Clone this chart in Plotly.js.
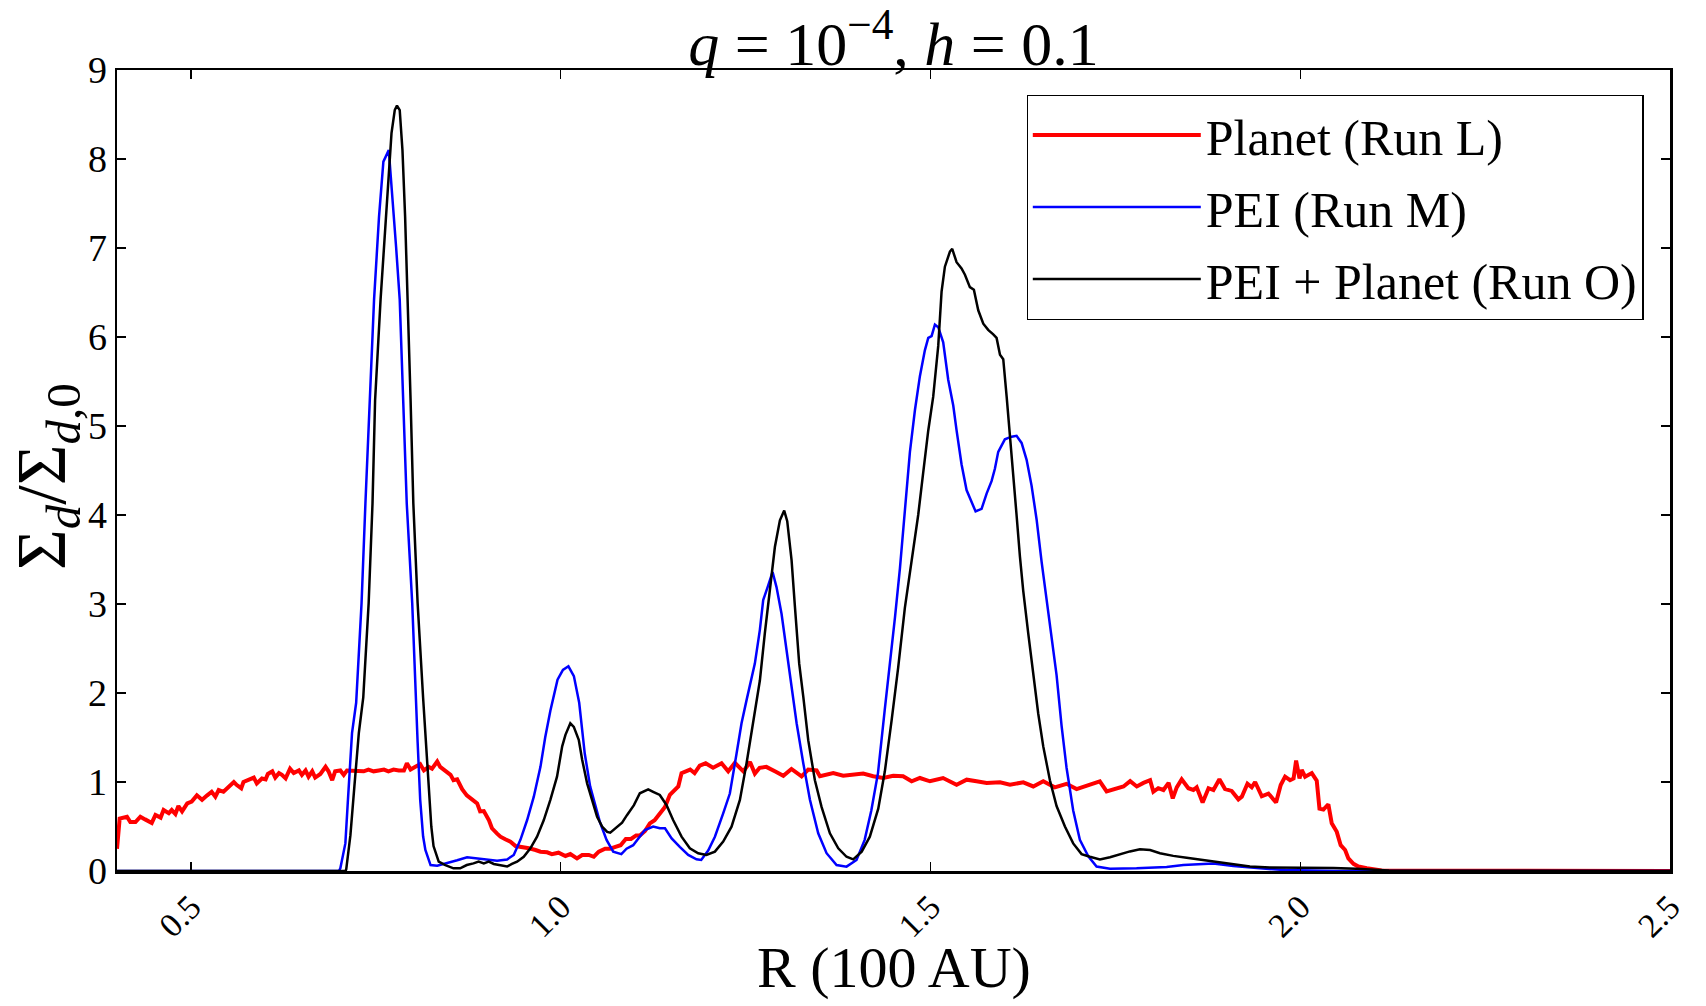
<!DOCTYPE html>
<html>
<head>
<meta charset="utf-8">
<script src="https://cdn.plot.ly/plotly-3.0.1.min.js"></script>
<style>
  html, body { margin: 0; padding: 0; background: #fff; }
</style>
</head>
<body>
<div id="chart"></div>
<script>
// Run L: planet only
const runLR = [0.400, 0.4036, 0.4135, 0.418, 0.425, 0.4316, 0.438, 0.447, 0.452, 0.459, 0.463, 0.470, 0.474, 0.479, 0.483, 0.488, 0.495, 0.501, 0.508, 0.515,
  0.522, 0.528, 0.533, 0.5375, 0.544, 0.551, 0.558, 0.562, 0.568, 0.571, 0.578, 0.585, 0.589, 0.596, 0.601, 0.604, 0.610, 0.614, 0.619, 0.623,
  0.628, 0.634, 0.639, 0.646, 0.650, 0.655, 0.659, 0.664, 0.668, 0.675, 0.682, 0.686, 0.691, 0.695, 0.702, 0.7066, 0.711, 0.718, 0.7246, 0.7336,
  0.740, 0.747, 0.754, 0.761, 0.767, 0.774, 0.781, 0.788, 0.792, 0.797, 0.8035, 0.810, 0.815, 0.8215, 0.826, 0.833, 0.837, 0.844, 0.851, 0.855,
  0.860, 0.8667, 0.873, 0.880, 0.887, 0.891, 0.896, 0.903, 0.907, 0.914, 0.9185, 0.925, 0.932, 0.939, 0.948, 0.957, 0.966, 0.9726, 0.9816, 0.988,
  0.997, 1.0064, 1.013, 1.022, 1.029, 1.038, 1.0447, 1.0515, 1.060, 1.067, 1.074, 1.081, 1.088, 1.095, 1.102, 1.107, 1.114, 1.1205, 1.127, 1.134,
  1.141, 1.1476, 1.153, 1.159, 1.1634, 1.169, 1.175, 1.181, 1.188, 1.196, 1.206, 1.2175, 1.2265, 1.2355, 1.247, 1.256, 1.2625, 1.269, 1.278, 1.2896,
  1.301, 1.312, 1.3257, 1.3347, 1.346, 1.3505, 1.3685, 1.382, 1.3956, 1.409, 1.4226, 1.436, 1.4497, 1.463, 1.4745, 1.4857, 1.4993, 1.517, 1.5353, 1.549,
  1.5623, 1.576, 1.594, 1.6075, 1.6255, 1.639, 1.6525, 1.668, 1.684, 1.6976, 1.7157, 1.729, 1.7382, 1.752, 1.761, 1.770, 1.779, 1.788, 1.797, 1.8014,
  1.808, 1.815, 1.822, 1.8276, 1.833, 1.8397, 1.8487, 1.8555, 1.860, 1.868, 1.876, 1.8826, 1.8907, 1.8983, 1.9073, 1.9164, 1.921, 1.9286, 1.9344, 1.939,
  1.948, 1.957, 1.9673, 1.9736, 1.9795, 1.9862, 1.991, 1.9944, 1.999, 2.002, 2.0066, 2.0156, 2.0223, 2.026, 2.0313, 2.038, 2.0426, 2.0494, 2.0547, 2.0607,
  2.0651, 2.072, 2.0787, 2.090, 2.110, 2.500];
const runLS = [0.25, 0.59, 0.61, 0.55, 0.55, 0.61, 0.58, 0.54, 0.63, 0.60, 0.685, 0.65, 0.685, 0.64, 0.73, 0.67, 0.76, 0.78, 0.85, 0.80,
  0.85, 0.89, 0.835, 0.91, 0.89, 0.94, 1.00, 0.966, 0.93, 1.00, 1.02, 1.05, 0.985, 1.04, 1.03, 1.09, 1.12, 1.05, 1.10, 1.08,
  1.04, 1.15, 1.10, 1.13, 1.08, 1.13, 1.06, 1.12, 1.05, 1.09, 1.17, 1.12, 1.02, 1.12, 1.13, 1.08, 1.13, 1.13, 1.12, 1.12,
  1.14, 1.12, 1.13, 1.14, 1.12, 1.14, 1.13, 1.13, 1.21, 1.14, 1.17, 1.20, 1.13, 1.17, 1.15, 1.23, 1.17, 1.13, 1.08, 1.02,
  1.03, 0.92, 0.85, 0.805, 0.76, 0.67, 0.674, 0.57, 0.48, 0.42, 0.386, 0.356, 0.33, 0.28, 0.27, 0.255, 0.236, 0.217, 0.21, 0.19,
  0.206, 0.169, 0.19, 0.142, 0.18, 0.18, 0.16, 0.217, 0.25, 0.25, 0.27, 0.29, 0.36, 0.36, 0.40, 0.40, 0.45, 0.535, 0.57, 0.65,
  0.72, 0.856, 0.90, 0.95, 1.10, 1.12, 1.14, 1.10, 1.185, 1.21, 1.16, 1.21, 1.12, 1.215, 1.12, 1.225, 1.094, 1.16, 1.17, 1.12,
  1.07, 1.147, 1.064, 1.14, 1.13, 1.064, 1.10, 1.07, 1.08, 1.094, 1.064, 1.045, 1.07, 1.064, 1.008, 1.045, 1.008, 1.045, 0.97, 1.026,
  1.008, 0.99, 0.996, 0.97, 0.996, 0.95, 1.008, 0.94, 0.98, 0.92, 0.97, 1.008, 0.894, 0.93, 0.95, 1.01, 0.95, 0.99, 1.02, 0.89,
  0.93, 0.91, 0.99, 0.816, 0.94, 1.03, 0.93, 0.91, 0.94, 0.77, 0.93, 0.91, 1.03, 0.92, 0.90, 0.805, 0.835, 0.98, 0.94, 1.00,
  0.84, 0.87, 0.77, 0.966, 1.06, 1.02, 1.04, 1.24, 1.04, 1.135, 1.06, 1.10, 1.015, 0.70, 0.69, 0.75, 0.535, 0.44, 0.29, 0.236,
  0.142, 0.08, 0.05, 0.03, 0.005, 0];

// Run M: PEI only
const runMR = [0.400, 0.700, 0.702, 0.7088, 0.712, 0.7178, 0.7234, 0.7307, 0.7359, 0.7418, 0.7476, 0.7543, 0.7602, 0.7675, 0.7727, 0.7775, 0.7823, 0.7874, 0.7918, 0.7992,
  0.8035, 0.8065, 0.810, 0.8139, 0.817, 0.824, 0.833, 0.846, 0.860, 0.8734, 0.887, 0.9004, 0.914, 0.9275, 0.9365, 0.9455, 0.9545, 0.9636, 0.9726, 0.979,
  0.986, 0.9957, 1.003, 1.0104, 1.0178, 1.025, 1.0325, 1.0398, 1.046, 1.053, 1.062, 1.071, 1.082, 1.089, 1.098, 1.105, 1.1138, 1.125, 1.134, 1.141,
  1.150, 1.161, 1.1724, 1.1836, 1.190, 1.1994, 1.2085, 1.2197, 1.2287, 1.2378, 1.2445, 1.2513, 1.258, 1.2625, 1.2693, 1.2738, 1.2806, 1.2865, 1.2918, 1.2986,
  1.3054, 1.312, 1.319, 1.328, 1.337, 1.3482, 1.3595, 1.373, 1.3865, 1.400, 1.411, 1.420, 1.429, 1.438, 1.445, 1.452, 1.4587, 1.4654, 1.4722, 1.479,
  1.4857, 1.4924, 1.497, 1.5015, 1.506, 1.5105, 1.5172, 1.524, 1.5308, 1.5353, 1.542, 1.5488, 1.5556, 1.561, 1.5691, 1.5759, 1.5826, 1.5871, 1.5916, 1.6006,
  1.6097, 1.6164, 1.6232, 1.630, 1.6367, 1.6435, 1.6502, 1.657, 1.6638, 1.6705, 1.6773, 1.684, 1.693, 1.702, 1.7134, 1.7246, 1.7427, 1.7787, 1.8193, 1.842,
  1.8824, 1.9095, 1.9456, 1.980, 2.050, 2.500];
const runMS = [0, 0, 0.03, 0.31, 0.76, 1.55, 1.89, 3.01, 4.13, 5.29, 6.42, 7.35, 7.97, 8.10, 7.55, 7.0, 6.42, 5.29, 4.13, 3.01,
  1.95, 1.45, 0.80, 0.39, 0.236, 0.067, 0.06, 0.086, 0.12, 0.154, 0.142, 0.13, 0.116, 0.13, 0.18, 0.35, 0.57, 0.835, 1.17, 1.50,
  1.80, 2.15, 2.26, 2.30, 2.19, 1.89, 1.32, 0.95, 0.75, 0.55, 0.35, 0.218, 0.19, 0.25, 0.29, 0.366, 0.46, 0.50, 0.48, 0.48,
  0.366, 0.27, 0.18, 0.131, 0.124, 0.23, 0.385, 0.648, 0.87, 1.32, 1.66, 1.92, 2.18, 2.33, 2.71, 3.045, 3.21, 3.36, 3.19, 2.89,
  2.48, 2.07, 1.66, 1.21, 0.80, 0.423, 0.20, 0.067, 0.049, 0.124, 0.35, 0.68, 1.10, 1.80, 2.30, 2.85, 3.40, 4.01, 4.71, 5.18,
  5.56, 5.85, 5.99, 6.01, 6.14, 6.11, 5.94, 5.52, 5.23, 4.95, 4.57, 4.28, 4.14, 4.04, 4.07, 4.24, 4.38, 4.52, 4.71, 4.85,
  4.88, 4.89, 4.81, 4.62, 4.33, 3.95, 3.48, 3.05, 2.67, 2.20, 1.63, 1.16, 0.68, 0.35, 0.165, 0.05, 0.025, 0.03, 0.045, 0.067,
  0.085, 0.055, 0.03, 0.01, 0, 0];

// Run O: PEI + planet
const runOR = [0.400, 0.709, 0.710, 0.7156, 0.721, 0.727, 0.733, 0.7403, 0.7455, 0.749, 0.7564, 0.7653, 0.7712, 0.7756, 0.7786, 0.7823, 0.786, 0.7896, 0.7932, 0.797,
  0.8007, 0.8065, 0.8139, 0.818, 0.8215, 0.825, 0.828, 0.835, 0.844, 0.855, 0.864, 0.873, 0.882, 0.889, 0.896, 0.9027, 0.9095, 0.9185, 0.9275, 0.934,
  0.941, 0.950, 0.959, 0.968, 0.977, 0.986, 0.995, 1.002, 1.0064, 1.013, 1.0177, 1.0245, 1.029, 1.0357, 1.0425, 1.0492, 1.056, 1.0628, 1.067, 1.074,
  1.083, 1.0898, 1.099, 1.107, 1.1183, 1.125, 1.134, 1.143, 1.152, 1.1634, 1.1746, 1.1859, 1.197, 1.2085, 1.2197, 1.231, 1.2423, 1.2513, 1.2603, 1.2693,
  1.276, 1.2829, 1.2896, 1.2964, 1.3022, 1.3063, 1.3122, 1.3167, 1.3225, 1.328, 1.3347, 1.3437, 1.3527, 1.364, 1.3753, 1.3865, 1.3955, 1.407, 1.418, 1.4294,
  1.4383, 1.4474, 1.4564, 1.4654, 1.4744, 1.4834, 1.4902, 1.497, 1.5037, 1.5105, 1.515, 1.5195, 1.5263, 1.5294, 1.5353, 1.542, 1.5466, 1.5533, 1.5587, 1.5646,
  1.5714, 1.578, 1.5849, 1.5894, 1.594, 1.5984, 1.603, 1.6074, 1.612, 1.6164, 1.621, 1.6254, 1.6322, 1.639, 1.6457, 1.6525, 1.6615, 1.6705, 1.6818, 1.693,
  1.7043, 1.7156, 1.7291, 1.7427, 1.7562, 1.7697, 1.7832, 1.797, 1.8103, 1.8283, 1.8464, 1.8644, 1.887, 1.9095, 1.932, 1.959, 2.000, 2.045, 2.076, 2.120,
  2.500];
const runOS = [0, 0, 0.02, 0.40, 0.95, 1.55, 1.95, 3.01, 4.13, 5.29, 6.42, 7.55, 8.29, 8.55, 8.60, 8.55, 8.10, 7.35, 6.42, 5.29,
  4.13, 3.01, 1.95, 1.40, 0.85, 0.50, 0.28, 0.105, 0.067, 0.03, 0.03, 0.067, 0.086, 0.105, 0.086, 0.105, 0.079, 0.067, 0.05, 0.079,
  0.105, 0.16, 0.255, 0.386, 0.57, 0.80, 1.06, 1.40, 1.53, 1.66, 1.62, 1.47, 1.25, 0.985, 0.80, 0.61, 0.50, 0.44, 0.43, 0.48,
  0.543, 0.63, 0.74, 0.873, 0.918, 0.89, 0.854, 0.742, 0.573, 0.386, 0.255, 0.199, 0.18, 0.218, 0.33, 0.498, 0.798, 1.21, 1.70, 2.14,
  2.67, 3.19, 3.64, 3.94, 4.05, 3.93, 3.49, 2.97, 2.33, 1.96, 1.47, 1.02, 0.72, 0.423, 0.255, 0.16, 0.131, 0.218, 0.386, 0.70,
  1.12, 1.69, 2.29, 2.96, 3.48, 4.00, 4.48, 4.95, 5.33, 5.90, 6.51, 6.79, 6.96, 6.99, 6.84, 6.77, 6.70, 6.56, 6.53, 6.30,
  6.15, 6.08, 6.03, 5.99, 5.80, 5.75, 5.33, 4.90, 4.52, 4.00, 3.53, 3.15, 2.67, 2.20, 1.77, 1.40, 1.02, 0.73, 0.50, 0.31,
  0.19, 0.16, 0.13, 0.155, 0.19, 0.22, 0.245, 0.235, 0.20, 0.17, 0.15, 0.13, 0.10, 0.075, 0.05, 0.04, 0.04, 0.035, 0.025, 0.005,
  0];

const seriesNames = ['Planet (Run L)', 'PEI (Run M)', 'PEI + Planet (Run O)'];
const xTickVals = [0.5, 1.0, 1.5, 2.0, 2.5];
const xTickText = ['0.5', '1.0', '1.5', '2.0', '2.5'];

const serif = 'Liberation Serif, Times New Roman, serif';

const traces = [
  { x: runLR, y: runLS, name: seriesNames[0], type: 'scatter', mode: 'lines',
    line: { color: '#ff0000', width: 4 }, legendgroup: 'a' },
  { x: runMR, y: runMS, name: seriesNames[1], type: 'scatter', mode: 'lines',
    line: { color: '#0000ff', width: 2.5 }, legendgroup: 'b' },
  { x: runOR, y: runOS, name: seriesNames[2], type: 'scatter', mode: 'lines',
    line: { color: '#000000', width: 2.5 }, legendgroup: 'c' }
]

const axisStyle = {
  showline: true, linecolor: 'black', linewidth: 2.5, mirror: 'allticks',
  ticks: 'inside', ticklen: 9, tickwidth: 1.2, tickcolor: 'black',
  showgrid: false, zeroline: false, automargin: false,
  tickfont: { family: serif, size: 38, color: 'black' }
}

// axis titles placed as annotations so they sit where the reference has them
const axisTitles = [
  { text: 'R (100 AU)', xref: 'paper', yref: 'paper', x: 0.5, y: -0.121,
    xanchor: 'center', yanchor: 'middle', showarrow: false,
    font: { family: serif, size: 58, color: 'black' } },
  { text: 'Σ<i><sub>d</sub></i>/Σ<i><sub>d</sub></i><sub>,0</sub>', xref: 'paper', yref: 'paper',
    x: -0.045, y: 0.492, xanchor: 'center', yanchor: 'middle', textangle: -90, showarrow: false,
    font: { family: serif, size: 70, color: 'black' } }
]

const layout = {
  width: 1706,
  height: 1006,
  margin: { l: 117, r: 36, t: 70, b: 135 },
  paper_bgcolor: 'white',
  plot_bgcolor: 'white',
  font: { family: serif, color: 'black' },
  title: {
    text: '<i>q</i> = 10<sup>−4</sup>, <i>h</i> = 0.1',
    font: { family: serif, size: 62 },
    x: 0.5, xref: 'paper', xanchor: 'center',
    y: 0.957, yref: 'container', yanchor: 'middle'
  },
  xaxis: Object.assign({}, axisStyle, {
    range: [0.4, 2.5],
    tickvals: xTickVals, ticktext: xTickText, tickangle: -45,
    tickfont: { family: serif, size: 34, color: 'black' }
  }),
  yaxis: Object.assign({}, axisStyle, {
    range: [0, 9], dtick: 1
  }),
  annotations: axisTitles,
  showlegend: true,
  legend: {
    x: 0.983, xanchor: 'right', y: 0.969, yanchor: 'top',
    bgcolor: 'white', bordercolor: 'black', borderwidth: 1.2,
    font: { family: serif, size: 50, color: 'black' },
    traceorder: 'grouped', tracegroupgap: 4, itemwidth: 168
  }
}

Plotly.newPlot('chart', traces, layout, { displayModeBar: false, staticPlot: true })
</script>
</body>
</html>
